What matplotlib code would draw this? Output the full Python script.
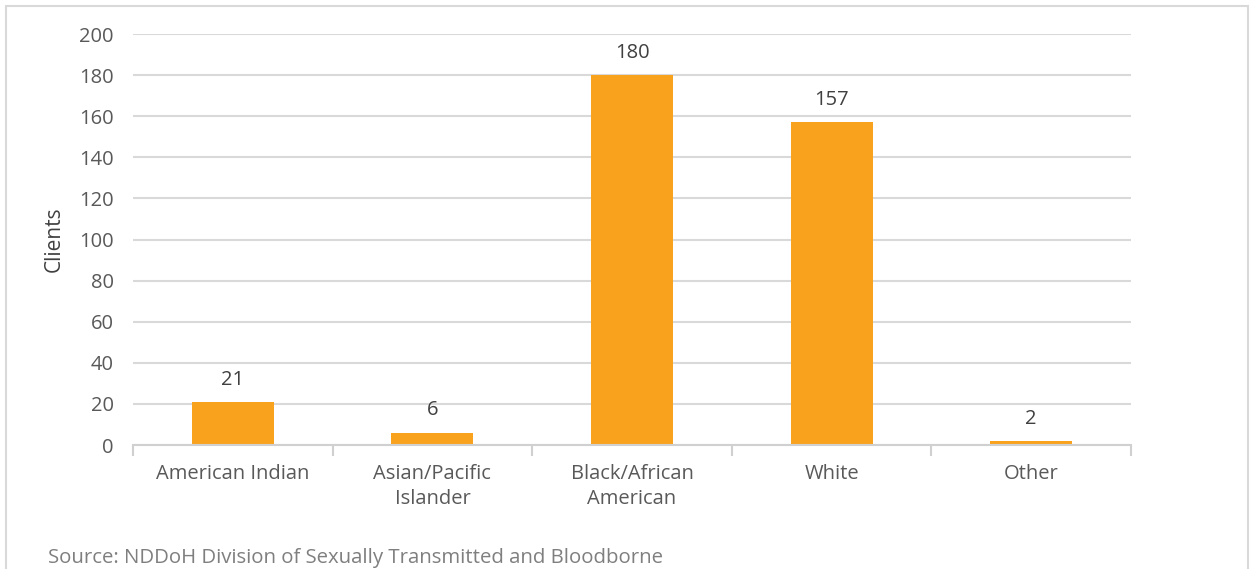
import matplotlib.pyplot as plt
from matplotlib.patches import Rectangle

categories = ["American Indian", "Asian/Pacific\nIslander", "Black/African\nAmerican", "White", "Other"]
clients = [21, 6, 180, 157, 2]
yticks = [0, 20, 40, 60, 80, 100, 120, 140, 160, 180, 200]

plt.rcParams['font.family'] = ['Open Sans', 'DejaVu Sans']

fig = plt.figure(figsize=(12.5, 5.69), dpi=100)
ax = fig.add_axes([0.1064, 0.2179, 0.7984, 0.7223])

# thin frame round the whole chart area
fig.patches.append(Rectangle((0.005, -0.2), 0.993, 1.19, transform=fig.transFigure,
                             fill=False, edgecolor="#d9d9d9", linewidth=1.5))

x = range(len(categories))
bars = ax.bar(x, clients, width=0.41, color="#F9A21E", zorder=3)
for b, v in zip(bars, clients):
    ax.text(b.get_x() + b.get_width() / 2, v + 6, str(v), ha="center", va="bottom",
            fontsize=14.5, color="#404040")

ax.set_xlim(-0.5, len(categories) - 0.5)
ax.set_ylim(0, 200)
ax.set_yticks(yticks)
ax.yaxis.grid(True, color="#d9d9d9", linewidth=1.5, zorder=0)
ax.tick_params(axis="y", length=0, labelsize=14.5, labelcolor="#595959", pad=14)

ax.set_xticks([i - 0.5 for i in range(len(categories) + 1)], minor=False)
ax.set_xticklabels([])
ax.set_xticks(list(x), minor=True)
ax.set_xticklabels(categories, minor=True, fontsize=14.5, color="#595959", linespacing=1.3)
ax.tick_params(axis="x", which="major", length=8, color="#d0d0d0", width=1.5, direction="out")
ax.tick_params(axis="x", which="minor", length=0, pad=14)

for s in ["top", "right", "left"]:
    ax.spines[s].set_visible(False)
ax.spines["bottom"].set_color("#d0d0d0")
ax.spines["bottom"].set_linewidth(1.5)
ax.spines["bottom"].set_zorder(4)

ax.set_ylabel("Clients", fontsize=15, color="#404040", labelpad=10)

fig.text(0.0385, 0.019, "Source: NDDoH Division of Sexually Transmitted and Bloodborne",
         fontsize=14.7, color="#7f7f7f", ha="left", va="center")

plt.savefig("out.png", dpi=100)
